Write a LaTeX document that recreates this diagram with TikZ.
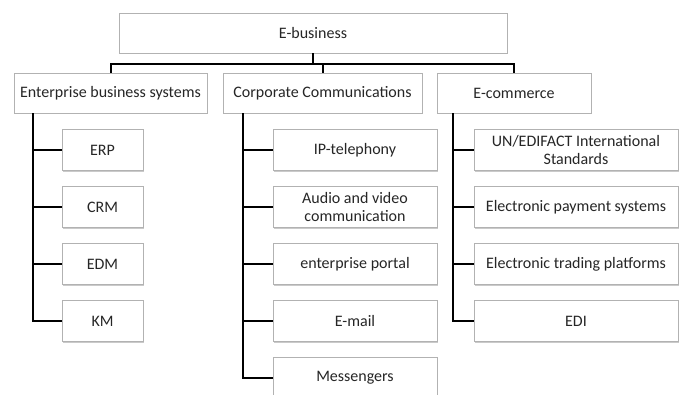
\documentclass[tikz,border=0pt]{standalone}
\usepackage{fontspec}
\setmainfont{Carlito}
\usetikzlibrary{shadows}

\tikzset{
  box/.style={draw=black!30, line width=0.6pt, fill=white, text=black!85,
    align=center, inner sep=1pt, minimum height=30pt,
    font=\fontsize{12}{13}\selectfont,
    drop shadow={shadow xshift=0.9pt, shadow yshift=-0.9pt, fill=black!35, opacity=.6}},
  leaf/.style={box, minimum height=30.75pt},
  branch/.style={line width=1.5pt, black}
}

\begin{document}
\begin{tikzpicture}[x=0.75pt, y=-0.75pt]
  \useasboundingbox (0,0) rectangle (683,394);

  \node[box, minimum width=291pt] (eb) at (313,33) {E-business};
  \node[box, minimum width=144.75pt] (ebs) at (110.5,93) {Enterprise business systems};
  \node[box, minimum width=149.25pt] (cc) at (322.5,93) {Corporate Communications};
  \node[box, minimum width=115.5pt] (ec) at (514,93) {E-commerce};

  \foreach \t [count=\i] in {ERP,CRM,EDM,KM}
    \node[leaf, minimum width=60.75pt] (e\i) at (102.5,93+57*\i) {\t};
  \foreach \t [count=\i] in {IP-telephony,{Audio and video\\communication},enterprise portal,E-mail,Messengers}
    \node[leaf, minimum width=123pt] (c\i) at (355,93+57*\i) {\t};
  \foreach \t [count=\i] in {{UN/EDIFACT International\\Standards},Electronic payment systems,Electronic trading platforms,EDI}
    \node[leaf, minimum width=153pt] (m\i) at (576,93+57*\i) {\t};

  \coordinate (bus) at (313,64);
  \coordinate (ebsv) at (33,113);
  \coordinate (ccv) at (243,113);
  \coordinate (ecv) at (453,113);

  \draw[branch] (eb.south) -- (bus);
  \draw[branch] (ebs.north) |- (bus) -| (ec.north);
  \draw[branch] (cc.north) -- (cc.north |- bus);

  \draw[branch] (ebsv) |- (e4.west);
  \foreach \i in {1,...,3} \draw[branch] (ebsv |- e\i.west) -- (e\i.west);
  \draw[branch] (ccv) |- (c5.west);
  \foreach \i in {1,...,4} \draw[branch] (ccv |- c\i.west) -- (c\i.west);
  \draw[branch] (ecv) |- (m4.west);
  \foreach \i in {1,...,3} \draw[branch] (ecv |- m\i.west) -- (m\i.west);
\end{tikzpicture}
\end{document}
